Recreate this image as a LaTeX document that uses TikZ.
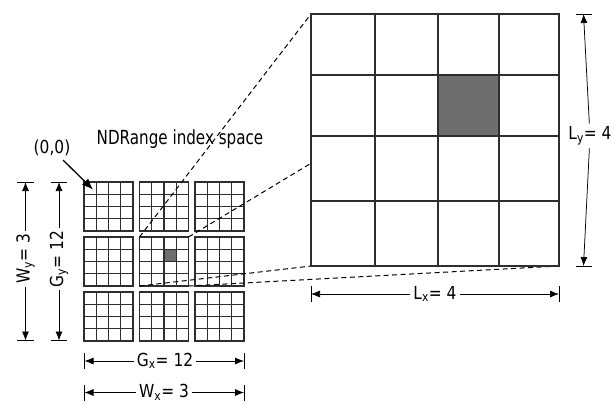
\documentclass[tikz,border=0pt]{standalone}
\usepackage{fontspec}
\setmainfont{DejaVu Sans}[FakeStretch=0.86]
\newfontfamily\titlefont{DejaVu Sans}[FakeStretch=0.78]
\usetikzlibrary{arrows.meta}
\begin{document}
\begin{tikzpicture}[x=1bp,y=-1bp,
  gridline/.style={line width=1.35bp, draw=black!82},
  blockbox/.style={draw=black!82, line width=1.35bp, fill=white, minimum size=49bp, inner sep=0pt, outer sep=0pt, anchor=north west},
  bigbox/.style={draw=black!85, line width=1.2bp, fill=white, minimum width=248bp, minimum height=252bp, inner sep=0pt, outer sep=0pt, anchor=north west},
  zoomline/.style={dash pattern=on 5bp off 3.5bp, line width=1bp},
  dimline/.style={line width=0.75bp},
  tip/.style={-{Latex[length=9bp,width=7bp]}},
  tickline/.style={line width=0.9bp},
  lbl/.style={font=\fontsize{18}{20}\selectfont, fill=white, inner sep=3bp},
  txt/.style={font=\fontsize{18}{20}\selectfont, inner sep=0pt},
  shade/.style={fill=black!57}
]
\useasboundingbox (0,0) rectangle (614,403);

% small blocks
\foreach \i/\x in {0/84,1/139.5,2/195}{
  \foreach \j/\y in {0/182,1/237,2/292}{
    \node[blockbox] (b\i\j) at (\x,\y) {};
  }
}
\fill[shade] (164,249.25) rectangle (176.25,261.5);
\foreach \x in {84,139.5,195}{
  \foreach \y in {182,237,292}{
    \foreach \k in {1,2,3}{
      \draw[gridline] ({\x+\k*12.25},\y) -- ++(0,49);
      \draw[gridline] (\x,{\y+\k*12.25}) -- ++(49,0);
    }
  }
}
\foreach \i in {0,1,2}{\foreach \j in {0,1,2}{\draw[gridline] (b\i\j.north west) rectangle (b\i\j.south east);}}

% zoom lines (drawn before the big grid, which hides part of them)
\node[bigbox, draw=none, fill=none] (big) at (311,14) {};
\draw[zoomline] (b11.north west) -- (big.north west);
\draw[zoomline] (b11.north east) -- (big.north east);
\draw[zoomline] (b11.south west) -- (big.south west);
\draw[zoomline] (b11.south east) -- (big.south east);

% big grid on top
\node[bigbox] (bigtop) at (311,14) {};
\fill[shade] (438,75) rectangle (499,136);
\foreach \x in {375,438,499}{\draw[gridline, line width=1.2bp] (\x,14) -- (\x,266);}
\foreach \y in {75,136,201}{\draw[gridline, line width=1.2bp] (311,\y) -- (559,\y);}
\draw[gridline, line width=1.2bp] (bigtop.north west) rectangle (bigtop.south east);

% texts
\node[txt] (origin) at (52,148) {(0,0)};
\coordinate (otip) at (93,189.5);
\draw[line width=1.3bp, -{Latex[length=11bp,width=9bp]}] (63,160) -- (otip);
\node[inner sep=0pt, font=\titlefont\fontsize{19.5}{21}\selectfont] (title) at (180,139) {NDRange index space};

% W_y
\coordinate (wya) at (25.5,182);
\coordinate (wyb) at (25.5,340.5);
\draw[tickline] (17,182) -- (34,182);
\draw[tickline] (17,340.5) -- (34,340.5);
\node[lbl, rotate=90] (wyl) at (25.5,259) {W\textsubscript{y}= 3};
\draw[dimline, tip] (wyl) -- (wya);
\draw[dimline, tip] (wyl) -- (wyb);

% G_y
\coordinate (gya) at (59,182);
\coordinate (gyb) at (59,340.5);
\draw[tickline] (51,182) -- (67,182);
\draw[tickline] (51,340.5) -- (67,340.5);
\node[lbl, rotate=90] (gyl) at (59,259) {G\textsubscript{y}= 12};
\draw[dimline, tip] (gyl) -- (gya);
\draw[dimline, tip] (gyl) -- (gyb);

% G_x
\coordinate (gxa) at (84.5,361);
\coordinate (gxb) at (244,361);
\draw[tickline] (84.5,353) -- (84.5,369);
\draw[tickline] (244,353) -- (244,369);
\node[lbl] (gxl) at (165,361) {G\textsubscript{x}= 12};
\draw[dimline, tip] (gxl) -- (gxa);
\draw[dimline, tip] (gxl) -- (gxb);

% W_x
\coordinate (wxa) at (84.5,392.5);
\coordinate (wxb) at (244,392.5);
\draw[tickline] (84.5,385) -- (84.5,401);
\draw[tickline] (244,385) -- (244,401);
\node[lbl] (wxl) at (164,392.5) {W\textsubscript{x}= 3};
\draw[dimline, tip] (wxl) -- (wxa);
\draw[dimline, tip] (wxl) -- (wxb);

% L_x
\coordinate (lxa) at (311,294);
\coordinate (lxb) at (559,294);
\draw[tickline] (311,286) -- (311,302);
\draw[tickline] (559,286) -- (559,302);
\node[lbl] (lxl) at (435,294) {L\textsubscript{x}= 4};
\draw[dimline, tip] (lxl) -- (lxa);
\draw[dimline, tip] (lxl) -- (lxb);

% L_y
\coordinate (lya) at (583.5,14);
\coordinate (lyb) at (583.5,266);
\draw[tickline] (575.5,14) -- (591.5,14);
\draw[tickline] (575.5,266) -- (591.5,266);
\node[lbl, inner xsep=1bp] (lyl) at (590,136) {L\textsubscript{y}= 4};
\draw[dimline, tip] (lyl) -- (lya);
\draw[dimline, tip] (lyl) -- (lyb);
\end{tikzpicture}
\end{document}
